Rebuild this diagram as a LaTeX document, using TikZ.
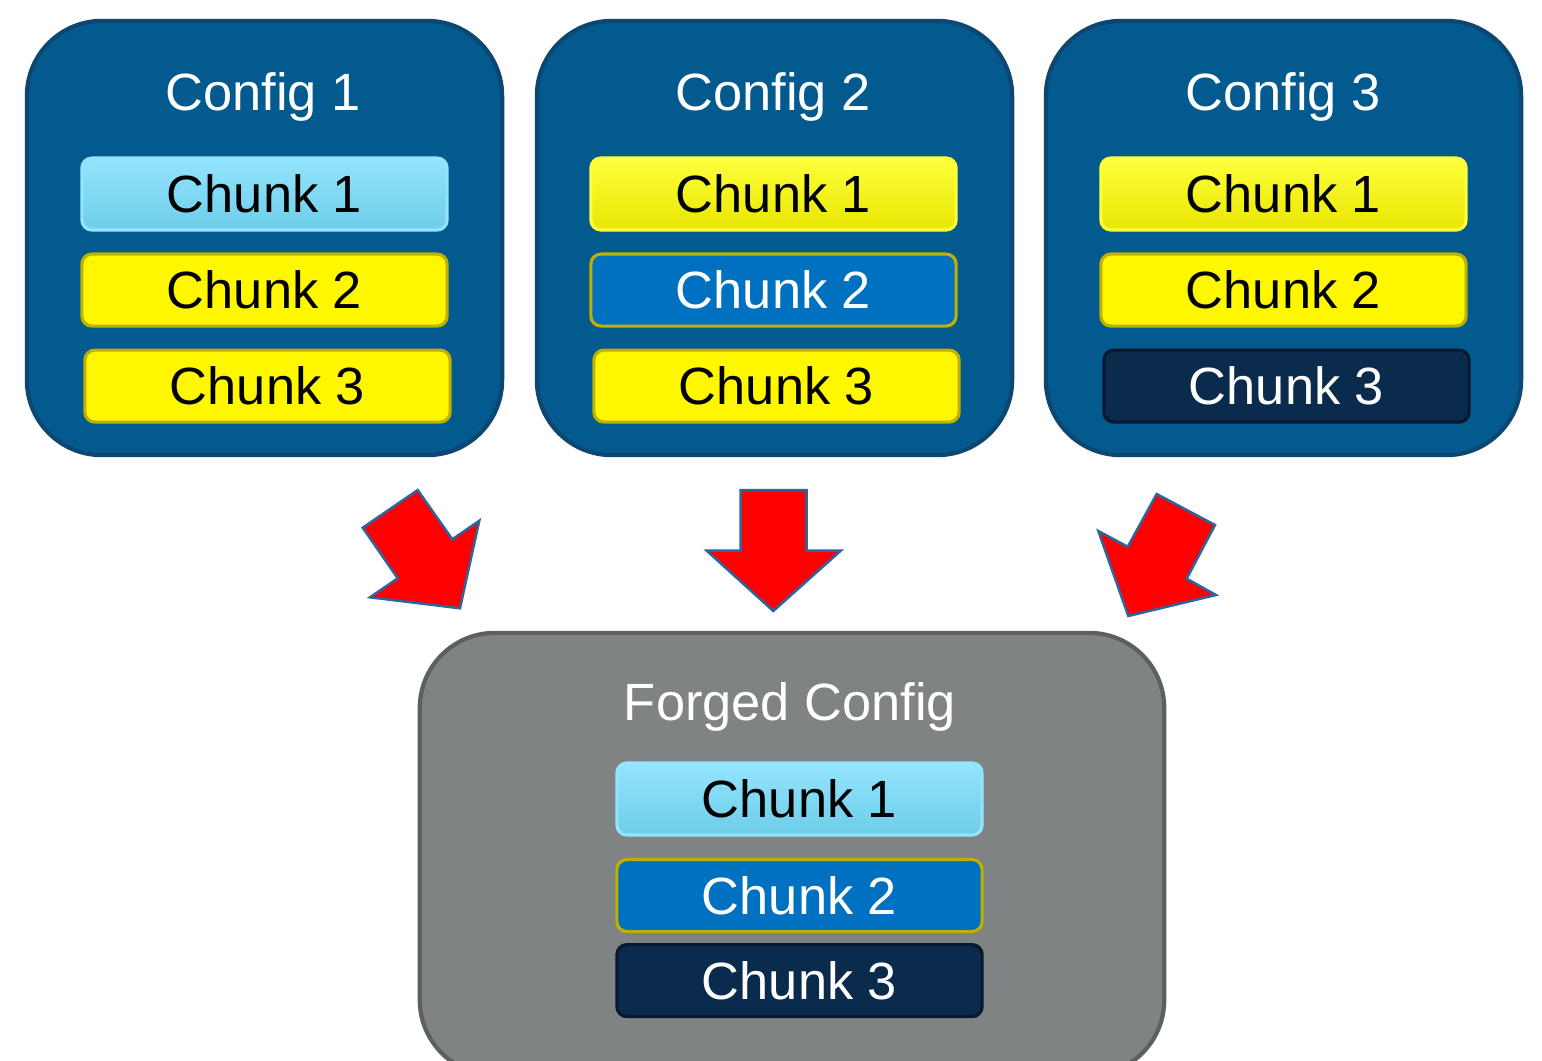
\documentclass[tikz,border=0pt]{standalone}
\usepackage{fontspec}
\setmainfont{Liberation Sans}
\usetikzlibrary{positioning}

\definecolor{cfgblue}{HTML}{035A8F}
\definecolor{cfgedge}{HTML}{0D4670}
\definecolor{forgegray}{HTML}{7F8383}
\definecolor{forgeedge}{HTML}{5C6060}
\definecolor{litetop}{HTML}{94E4FE}
\definecolor{litebot}{HTML}{6DCDE8}
\definecolor{chunkyellow}{HTML}{FFF700}
\definecolor{glowtop}{HTML}{FFFF3C}
\definecolor{glowbot}{HTML}{E8E600}
\definecolor{oliveedge}{HTML}{BDB000}
\definecolor{midblue}{HTML}{0070C0}
\definecolor{navy}{HTML}{0B2B4D}
\definecolor{navyedge}{HTML}{06192E}
\definecolor{arrowedge}{HTML}{2A66A0}

\begin{document}
\begin{tikzpicture}[x=0.01cm, y=-0.01cm, node distance=0.96cm, on grid,
    cfg/.style={draw=cfgedge, fill=cfgblue, line width=1.2pt,
        rounded corners=0.75cm, minimum width=4.75cm, minimum height=4.34cm},
    forge/.style={draw=forgeedge, fill=forgegray, line width=1.2pt,
        rounded corners=0.75cm, minimum width=7.44cm, minimum height=4.42cm},
    title/.style={text=white, anchor=base, font=\fontsize{14.9}{16}\selectfont},
    chunk/.style={rounded corners=0.1cm, minimum width=3.65cm, minimum height=0.72cm,
        inner sep=0pt, text height=0.37cm, text depth=0cm, line width=0.9pt,
        font=\fontsize{14.9}{16}\selectfont},
    litechunk/.style={chunk, top color=litetop, bottom color=litebot, draw=litetop, text=black},
    yellowchunk/.style={chunk, fill=chunkyellow, draw=oliveedge, text=black},
    glowchunk/.style={chunk, top color=glowtop, bottom color=glowbot, draw=glowtop, text=black},
    bluechunk/.style={chunk, fill=midblue, draw=oliveedge, text=white},
    navychunk/.style={chunk, fill=navy, draw=navyedge, text=white},
    redarrow/.style={fill=red, draw=arrowedge, line width=0.7pt, line join=miter}]

    \useasboundingbox (0,0) rectangle (1542,1060);
    \clip (0,0) rectangle (1542,1060);

    % source configs
    \node[cfg] (cfg1) at (264.5,238) {};
    \node[cfg] (cfg2) at (774.5,238) {};
    \node[cfg] (cfg3) at (1283.5,238) {};

    \node[title] (t1) at (263,110) {Config 1};
    \node[litechunk] (c1a) at (264.5,194) {Chunk 1};
    \node[yellowchunk] (c1b) [below=of c1a] {Chunk 2};
    \node[yellowchunk] (c1c) [below=of c1b, xshift=0.03cm] {Chunk 3};

    \node[title] (t2) at (773,110) {Config 2};
    \node[glowchunk] (c2a) at (773.5,194) {Chunk 1};
    \node[bluechunk] (c2b) [below=of c2a] {Chunk 2};
    \node[yellowchunk] (c2c) [below=of c2b, xshift=0.03cm] {Chunk 3};

    \node[title] (t3) at (1283,110) {Config 3};
    \node[glowchunk] (c3a) at (1283.5,194) {Chunk 1};
    \node[yellowchunk] (c3b) [below=of c3a] {Chunk 2};
    \node[navychunk] (c3c) [below=of c3b, xshift=0.03cm] {Chunk 3};

    % result
    \node[forge] (fcfg) at (792,854) {};
    \node[title] (tf) at (790,720) {Forged Config};
    \node[litechunk] (fa) at (799.5,799) {Chunk 1};
    \node[bluechunk] (fb) [below=0.965cm of fa] {Chunk 2};
    \node[navychunk] (fc) [below=0.85cm of fb] {Chunk 3};

    % block arrows
    \filldraw[redarrow] (417.7,490) -- (452.3,539.3) -- (479.3,520.7) -- (460,608.3)
        -- (370,597.3) -- (397.7,578.3) -- (362.7,527.7) -- cycle;
    \filldraw[redarrow] (740.7,490) -- (806.7,490) -- (806.7,550.7) -- (840.7,550.7)
        -- (773.3,611) -- (706.7,550.7) -- (740.7,550.7) -- cycle;
    \filldraw[redarrow] (1156.7,494) -- (1215,525) -- (1186.7,578.7) -- (1216,595)
        -- (1128.3,616) -- (1098.3,531) -- (1127.7,546.7) -- cycle;

\end{tikzpicture}
\end{document}
